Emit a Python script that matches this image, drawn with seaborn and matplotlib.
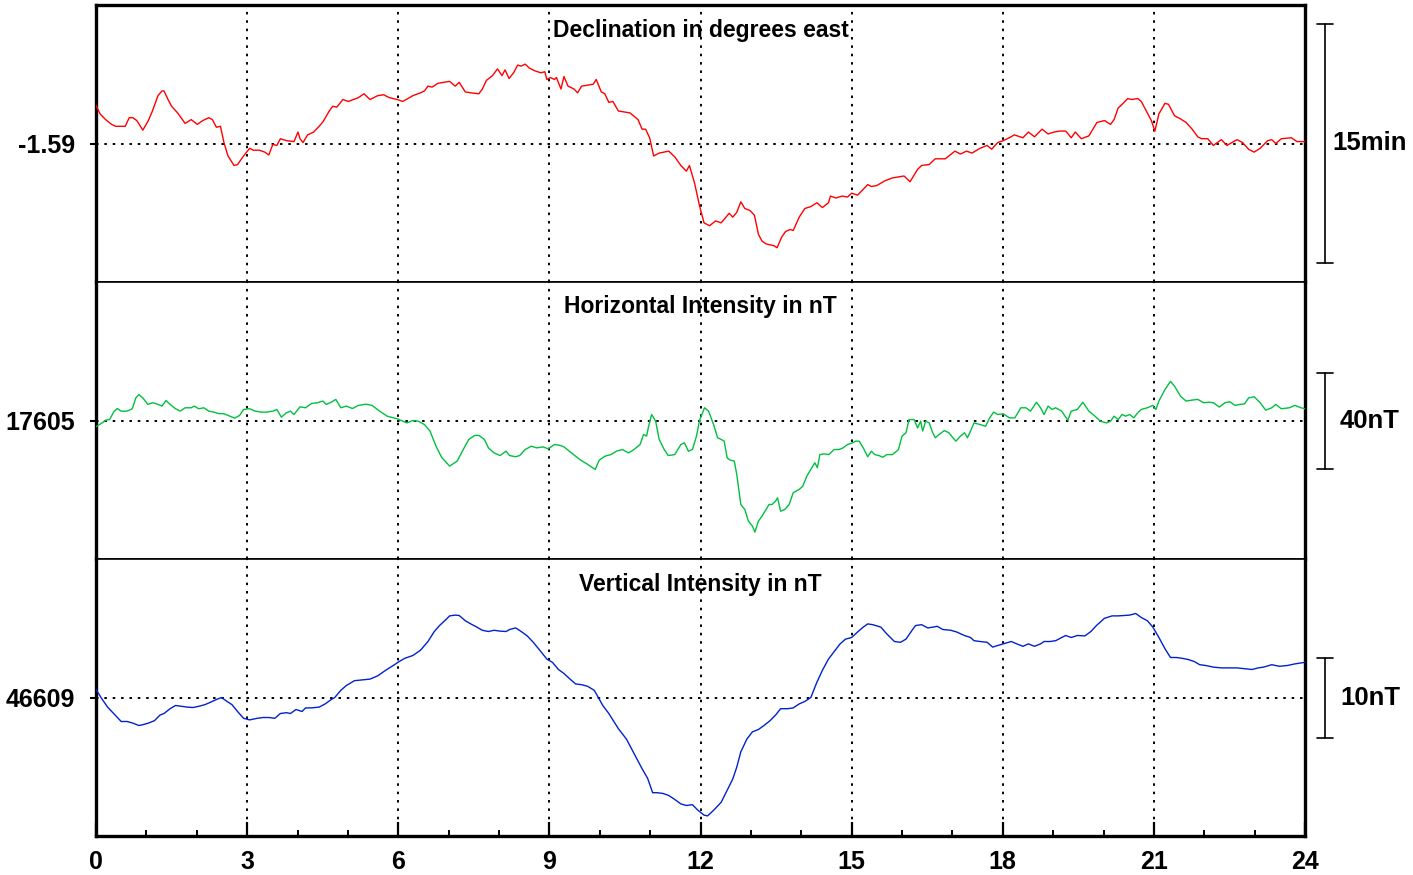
import matplotlib
matplotlib.use("Agg")
import pandas as pd
import seaborn as sns
import matplotlib.pyplot as plt

# Declination (degrees east): (hour, value)
d_points = [
    (0.00, -1.550), (0.08, -1.559), (0.19, -1.565), (0.31, -1.570), (0.39, -1.572), (0.50, -1.572),
    (0.58, -1.572), (0.66, -1.563), (0.73, -1.563), (0.81, -1.566), (0.93, -1.576), (1.04, -1.566),
    (1.12, -1.556), (1.23, -1.540), (1.31, -1.535), (1.35, -1.535), (1.43, -1.544), (1.50, -1.551),
    (1.62, -1.558), (1.77, -1.569), (1.89, -1.565), (2.01, -1.570), (2.12, -1.566), (2.24, -1.563),
    (2.31, -1.565), (2.39, -1.573), (2.47, -1.572), (2.54, -1.589), (2.62, -1.603), (2.74, -1.613),
    (2.81, -1.612), (2.93, -1.603), (3.05, -1.595), (3.12, -1.597), (3.24, -1.597), (3.35, -1.599),
    (3.43, -1.602), (3.51, -1.591), (3.59, -1.592), (3.66, -1.585), (3.78, -1.587), (3.93, -1.588),
    (4.01, -1.578), (4.05, -1.585), (4.11, -1.589), (4.20, -1.581), (4.32, -1.578), (4.43, -1.572),
    (4.51, -1.567), (4.63, -1.556), (4.70, -1.551), (4.78, -1.552), (4.90, -1.544), (5.01, -1.546),
    (5.21, -1.542), (5.32, -1.538), (5.44, -1.544), (5.59, -1.540), (5.71, -1.539), (5.82, -1.542),
    (5.98, -1.544), (6.09, -1.546), (6.29, -1.540), (6.44, -1.537), (6.52, -1.535), (6.59, -1.530),
    (6.67, -1.531), (6.79, -1.527), (6.90, -1.526), (7.02, -1.525), (7.13, -1.530), (7.21, -1.526),
    (7.33, -1.536), (7.44, -1.537), (7.60, -1.538), (7.67, -1.533), (7.75, -1.524), (7.87, -1.519),
    (7.97, -1.512), (8.06, -1.519), (8.12, -1.513), (8.20, -1.522), (8.29, -1.516), (8.37, -1.508),
    (8.44, -1.509), (8.52, -1.507), (8.60, -1.511), (8.71, -1.514), (8.83, -1.516), (8.91, -1.515),
    (8.95, -1.523), (9.02, -1.521), (9.10, -1.523), (9.14, -1.521), (9.23, -1.533), (9.29, -1.520),
    (9.37, -1.530), (9.49, -1.533), (9.56, -1.537), (9.64, -1.530), (9.76, -1.529), (9.87, -1.528),
    (9.93, -1.523), (10.03, -1.536), (10.10, -1.538), (10.18, -1.547), (10.26, -1.546), (10.37, -1.556),
    (10.49, -1.557), (10.60, -1.558), (10.76, -1.565), (10.84, -1.575), (10.91, -1.575), (10.99, -1.584),
    (11.07, -1.603), (11.18, -1.600), (11.37, -1.598), (11.49, -1.604), (11.61, -1.613), (11.72, -1.619),
    (11.78, -1.613), (11.88, -1.631), (11.98, -1.655), (12.07, -1.673), (12.18, -1.676), (12.30, -1.671),
    (12.41, -1.673), (12.57, -1.663), (12.64, -1.667), (12.72, -1.662), (12.80, -1.651), (12.88, -1.658),
    (12.98, -1.660), (13.07, -1.665), (13.15, -1.685), (13.22, -1.692), (13.30, -1.695), (13.38, -1.696),
    (13.46, -1.697), (13.52, -1.699), (13.61, -1.688), (13.69, -1.682), (13.78, -1.680), (13.84, -1.681),
    (13.96, -1.667), (14.07, -1.658), (14.19, -1.656), (14.31, -1.652), (14.42, -1.657), (14.54, -1.652),
    (14.58, -1.645), (14.69, -1.647), (14.81, -1.645), (14.92, -1.646), (15.00, -1.642), (15.12, -1.644),
    (15.23, -1.638), (15.32, -1.633), (15.39, -1.635), (15.50, -1.634), (15.66, -1.629), (15.81, -1.626),
    (15.93, -1.625), (16.04, -1.624), (16.16, -1.630), (16.31, -1.617), (16.39, -1.613), (16.54, -1.612),
    (16.66, -1.606), (16.86, -1.606), (17.05, -1.598), (17.16, -1.601), (17.28, -1.598), (17.39, -1.600),
    (17.55, -1.595), (17.69, -1.592), (17.78, -1.596), (17.90, -1.589), (18.01, -1.587), (18.13, -1.584),
    (18.23, -1.581), (18.40, -1.584), (18.51, -1.578), (18.63, -1.583), (18.78, -1.575), (18.90, -1.580),
    (19.02, -1.578), (19.13, -1.577), (19.25, -1.577), (19.36, -1.584), (19.44, -1.578), (19.56, -1.585),
    (19.71, -1.582), (19.87, -1.568), (20.02, -1.566), (20.14, -1.570), (20.21, -1.565), (20.29, -1.553),
    (20.37, -1.549), (20.48, -1.543), (20.56, -1.544), (20.68, -1.543), (20.75, -1.546), (20.83, -1.554),
    (20.95, -1.566), (21.02, -1.577), (21.10, -1.559), (21.22, -1.548), (21.29, -1.549), (21.41, -1.561),
    (21.52, -1.564), (21.64, -1.568), (21.76, -1.575), (21.87, -1.583), (21.95, -1.585), (22.07, -1.585),
    (22.18, -1.592), (22.34, -1.586), (22.45, -1.592), (22.65, -1.586), (22.76, -1.589), (22.88, -1.596),
    (22.99, -1.599), (23.11, -1.595), (23.26, -1.587), (23.34, -1.586), (23.42, -1.590), (23.53, -1.585),
    (23.73, -1.584), (23.84, -1.588), (24.00, -1.588),
]

# Horizontal intensity (nT)
h_points = [
    (0.00, 17602.4), (0.12, 17604.0), (0.19, 17605.1), (0.27, 17605.4), (0.35, 17608.5), (0.42, 17610.0),
    (0.50, 17608.9), (0.62, 17608.9), (0.72, 17609.9), (0.79, 17614.4), (0.85, 17615.8), (0.93, 17614.4),
    (1.03, 17611.7), (1.12, 17612.4), (1.21, 17611.9), (1.31, 17611.0), (1.39, 17613.3), (1.47, 17611.7),
    (1.58, 17609.9), (1.67, 17608.9), (1.77, 17610.3), (1.89, 17610.3), (1.95, 17611.0), (2.04, 17609.9),
    (2.14, 17610.3), (2.24, 17608.9), (2.34, 17608.5), (2.43, 17607.9), (2.54, 17607.8), (2.66, 17606.8),
    (2.75, 17606.0), (2.85, 17607.1), (2.93, 17609.6), (3.05, 17609.9), (3.16, 17608.9), (3.28, 17608.5),
    (3.39, 17608.5), (3.51, 17608.9), (3.59, 17609.6), (3.68, 17606.4), (3.78, 17608.2), (3.86, 17608.9),
    (3.93, 17607.5), (4.05, 17610.7), (4.16, 17610.3), (4.28, 17612.1), (4.40, 17612.4), (4.50, 17613.1),
    (4.57, 17611.7), (4.67, 17612.6), (4.76, 17613.8), (4.86, 17610.3), (4.97, 17611.0), (5.09, 17610.0),
    (5.21, 17611.3), (5.36, 17611.8), (5.48, 17611.3), (5.63, 17608.9), (5.78, 17606.8), (5.98, 17605.7),
    (6.09, 17604.7), (6.17, 17604.0), (6.29, 17605.0), (6.40, 17604.7), (6.52, 17603.3), (6.63, 17600.6),
    (6.75, 17594.3), (6.86, 17589.7), (7.02, 17586.0), (7.17, 17588.1), (7.29, 17592.9), (7.40, 17597.1),
    (7.52, 17598.8), (7.60, 17598.8), (7.71, 17597.1), (7.79, 17593.6), (7.90, 17591.5), (8.02, 17590.4),
    (8.14, 17592.2), (8.21, 17590.4), (8.33, 17589.9), (8.41, 17590.4), (8.52, 17592.9), (8.64, 17594.3),
    (8.75, 17593.6), (8.87, 17594.0), (8.98, 17593.2), (9.10, 17595.0), (9.22, 17594.6), (9.29, 17594.0),
    (9.45, 17591.3), (9.60, 17588.8), (9.76, 17586.7), (9.91, 17584.6), (9.99, 17588.5), (10.10, 17590.1),
    (10.22, 17590.8), (10.33, 17592.2), (10.45, 17592.9), (10.57, 17591.5), (10.68, 17592.9), (10.80, 17595.0),
    (10.87, 17599.2), (10.93, 17598.5), (10.97, 17602.6), (11.03, 17607.5), (11.11, 17604.7), (11.18, 17597.1),
    (11.28, 17592.9), (11.36, 17590.4), (11.49, 17590.8), (11.61, 17595.0), (11.68, 17595.7), (11.76, 17592.2),
    (11.84, 17592.9), (11.92, 17598.5), (11.98, 17605.0), (12.08, 17610.3), (12.16, 17608.9), (12.26, 17603.3),
    (12.34, 17597.8), (12.41, 17597.1), (12.47, 17596.4), (12.53, 17589.4), (12.59, 17588.5), (12.67, 17588.1),
    (12.72, 17582.5), (12.80, 17570.0), (12.88, 17567.9), (12.95, 17563.1), (13.03, 17561.0), (13.08, 17558.5),
    (13.15, 17563.1), (13.22, 17565.1), (13.30, 17567.9), (13.36, 17570.0), (13.42, 17570.0), (13.49, 17571.4),
    (13.53, 17572.8), (13.59, 17567.2), (13.67, 17567.9), (13.76, 17570.0), (13.84, 17574.9), (13.96, 17576.3),
    (14.03, 17577.6), (14.11, 17581.8), (14.19, 17584.6), (14.27, 17587.4), (14.32, 17585.3), (14.37, 17590.8),
    (14.46, 17591.1), (14.55, 17590.8), (14.65, 17592.9), (14.75, 17592.9), (14.83, 17593.6), (14.92, 17595.0),
    (15.02, 17595.7), (15.08, 17596.4), (15.15, 17596.4), (15.23, 17593.6), (15.32, 17589.9), (15.39, 17592.2),
    (15.46, 17590.8), (15.54, 17590.4), (15.62, 17589.7), (15.70, 17590.8), (15.81, 17590.8), (15.93, 17592.9),
    (16.00, 17598.5), (16.08, 17599.9), (16.14, 17605.4), (16.24, 17605.4), (16.31, 17601.9), (16.37, 17604.7),
    (16.41, 17600.6), (16.47, 17604.7), (16.54, 17604.0), (16.61, 17599.9), (16.66, 17597.8), (16.74, 17599.2),
    (16.84, 17600.8), (16.93, 17599.9), (17.01, 17597.8), (17.07, 17596.4), (17.16, 17598.5), (17.24, 17599.9),
    (17.30, 17597.8), (17.36, 17600.6), (17.43, 17604.0), (17.55, 17603.3), (17.66, 17602.6), (17.74, 17606.1),
    (17.82, 17608.5), (17.90, 17607.5), (18.01, 17607.8), (18.13, 17606.1), (18.24, 17606.1), (18.36, 17610.3),
    (18.46, 17610.3), (18.55, 17608.9), (18.67, 17612.6), (18.75, 17610.3), (18.82, 17607.5), (18.90, 17611.0),
    (18.98, 17609.6), (19.05, 17610.3), (19.17, 17608.9), (19.29, 17605.1), (19.36, 17608.9), (19.48, 17609.6),
    (19.59, 17612.6), (19.71, 17608.9), (19.83, 17606.8), (19.94, 17604.7), (20.06, 17604.0), (20.14, 17604.7),
    (20.21, 17606.8), (20.29, 17605.4), (20.37, 17607.5), (20.44, 17606.8), (20.52, 17607.5), (20.60, 17606.1),
    (20.68, 17608.2), (20.75, 17609.6), (20.87, 17610.3), (20.98, 17611.3), (21.04, 17609.6), (21.10, 17613.1),
    (21.22, 17617.9), (21.33, 17621.3), (21.41, 17619.3), (21.53, 17615.1), (21.64, 17613.1), (21.76, 17613.5),
    (21.87, 17613.8), (21.99, 17612.4), (22.10, 17612.6), (22.18, 17612.4), (22.30, 17610.6), (22.41, 17612.4),
    (22.51, 17612.8), (22.61, 17611.3), (22.71, 17611.7), (22.80, 17611.9), (22.88, 17614.4), (22.99, 17614.9),
    (23.11, 17612.4), (23.22, 17609.3), (23.34, 17610.3), (23.42, 17611.7), (23.53, 17609.9), (23.69, 17610.3),
    (23.80, 17611.3), (23.92, 17610.3), (24.00, 17609.9),
]

# Vertical intensity (nT)
z_points = [
    (0.00, 46610.0), (0.12, 46608.8), (0.23, 46607.8), (0.35, 46607.0), (0.50, 46606.0), (0.62, 46606.0),
    (0.73, 46605.8), (0.85, 46605.5), (0.93, 46605.6), (1.04, 46605.8), (1.16, 46606.1), (1.27, 46606.8),
    (1.35, 46607.0), (1.47, 46607.6), (1.58, 46608.0), (1.70, 46607.9), (1.81, 46607.8), (1.93, 46607.75),
    (2.04, 46607.9), (2.16, 46608.1), (2.27, 46608.4), (2.39, 46608.75), (2.49, 46609.0), (2.58, 46608.6),
    (2.70, 46608.1), (2.81, 46607.25), (2.93, 46606.4), (3.05, 46606.2), (3.20, 46606.4), (3.32, 46606.5),
    (3.43, 46606.5), (3.55, 46606.4), (3.66, 46607.0), (3.78, 46607.1), (3.86, 46607.0), (3.97, 46607.5),
    (4.09, 46607.25), (4.16, 46607.7), (4.28, 46607.7), (4.43, 46607.8), (4.55, 46608.2), (4.67, 46608.75),
    (4.74, 46609.0), (4.86, 46609.9), (4.97, 46610.5), (5.13, 46611.1), (5.28, 46611.2), (5.44, 46611.3),
    (5.59, 46611.7), (5.75, 46612.4), (5.90, 46613.0), (6.02, 46613.5), (6.13, 46613.9), (6.29, 46614.25),
    (6.44, 46614.9), (6.59, 46616.0), (6.71, 46617.2), (6.82, 46618.0), (6.94, 46618.7), (7.02, 46619.2),
    (7.13, 46619.3), (7.21, 46619.25), (7.33, 46618.6), (7.44, 46618.2), (7.56, 46617.8), (7.67, 46617.4),
    (7.79, 46617.25), (7.90, 46617.4), (8.02, 46617.3), (8.14, 46617.25), (8.21, 46617.5), (8.33, 46617.7),
    (8.44, 46617.25), (8.56, 46616.7), (8.68, 46615.9), (8.83, 46614.75), (8.95, 46613.8), (9.06, 46613.4),
    (9.18, 46612.5), (9.29, 46612.0), (9.41, 46611.3), (9.52, 46610.7), (9.64, 46610.6), (9.76, 46610.4),
    (9.89, 46609.9), (9.99, 46608.8), (10.06, 46608.0), (10.18, 46607.0), (10.37, 46605.1), (10.53, 46603.8),
    (10.68, 46602.0), (10.84, 46600.1), (10.95, 46598.9), (11.05, 46597.1), (11.14, 46597.1), (11.26, 46597.0),
    (11.37, 46596.75), (11.49, 46596.25), (11.61, 46595.7), (11.72, 46595.5), (11.84, 46595.6), (11.95, 46594.9),
    (12.07, 46594.3), (12.14, 46594.2), (12.26, 46594.9), (12.41, 46595.9), (12.53, 46597.4), (12.64, 46598.8),
    (12.72, 46600.3), (12.80, 46602.2), (12.92, 46603.8), (13.03, 46604.7), (13.15, 46605.0), (13.26, 46605.5),
    (13.38, 46606.1), (13.49, 46606.8), (13.59, 46607.6), (13.73, 46607.6), (13.84, 46607.7), (13.96, 46608.2),
    (14.07, 46608.5), (14.19, 46609.0), (14.31, 46610.9), (14.42, 46612.4), (14.54, 46613.8), (14.65, 46614.7),
    (14.77, 46615.7), (14.88, 46616.3), (15.00, 46616.5), (15.12, 46617.2), (15.23, 46617.8), (15.32, 46618.2),
    (15.42, 46618.1), (15.58, 46617.8), (15.69, 46617.0), (15.85, 46616.0), (15.97, 46615.9), (16.08, 46616.3),
    (16.20, 46617.4), (16.27, 46618.0), (16.39, 46618.1), (16.51, 46617.7), (16.62, 46617.8), (16.70, 46617.9),
    (16.81, 46617.5), (16.97, 46617.4), (17.08, 46617.2), (17.24, 46616.75), (17.36, 46616.5), (17.43, 46616.1),
    (17.55, 46616.0), (17.69, 46615.9), (17.80, 46615.3), (17.90, 46615.5), (18.01, 46615.7), (18.17, 46616.0),
    (18.28, 46615.7), (18.40, 46615.4), (18.51, 46615.7), (18.63, 46615.4), (18.75, 46615.7), (18.82, 46616.0),
    (18.94, 46616.0), (19.05, 46616.1), (19.17, 46616.5), (19.25, 46616.75), (19.36, 46616.5), (19.48, 46616.75),
    (19.63, 46616.7), (19.75, 46617.25), (19.86, 46618.0), (20.02, 46618.9), (20.17, 46619.2), (20.29, 46619.2),
    (20.41, 46619.25), (20.52, 46619.3), (20.64, 46619.5), (20.75, 46619.0), (20.87, 46618.6), (20.98, 46617.8),
    (21.10, 46616.5), (21.22, 46615.1), (21.33, 46614.0), (21.45, 46614.0), (21.56, 46613.9), (21.68, 46613.75),
    (21.80, 46613.5), (21.91, 46613.1), (22.03, 46613.0), (22.18, 46612.8), (22.34, 46612.7), (22.49, 46612.7),
    (22.65, 46612.7), (22.80, 46612.6), (22.95, 46612.5), (23.07, 46612.7), (23.18, 46612.8), (23.34, 46613.1),
    (23.49, 46612.9), (23.65, 46613.0), (23.80, 46613.2), (24.00, 46613.4),
]

titles = ['Declination in degrees east', 'Horizontal Intensity in nT', 'Vertical Intensity in nT']
baselines = [-1.59, 17605, 46609]
baseline_labels = ['-1.59', '17605', '46609']
scale_bars = [0.25, 40, 10]          # full length of the scale bar, in data units
scale_labels = ['15min', '40nT', '10nT']
hour_ticks = list(range(0, 25, 3))

series = [d_points, h_points, z_points]
colors = ['#ff0000', '#00c040', '#0022cc']
# pixels per data unit for each panel (scale bars are 239, 96 and 80 px long)
px_per_unit = [956, 2.4, 8]

sns.set_style('white')
plt.rcParams['font.family'] = ['Liberation Sans', 'DejaVu Sans']
plt.rcParams['font.weight'] = 'bold'
for key in ('text.color', 'xtick.color', 'ytick.color', 'axes.labelcolor', 'axes.edgecolor'):
    plt.rcParams[key] = 'black'

fig, axes = plt.subplots(3, 1, figsize=(14.13, 8.75), dpi=100, sharex=True)
fig.subplots_adjust(left=96 / 1413, right=1305 / 1413, top=1 - 5 / 875, bottom=1 - 836 / 875, hspace=0)

dot = (0, (1.3, 3.0))
for i, ax in enumerate(axes):
    df = pd.DataFrame(series[i], columns=['hour', 'value'])
    base = baselines[i]
    half = 138.5 / px_per_unit[i]

    # grid first so the trace sits on top
    ax.axhline(base, color='black', lw=1.4, ls=dot, zorder=1)
    for t in hour_ticks[1:-1]:
        ax.axvline(t, color='black', lw=1.4, ls=dot, zorder=1)

    sns.lineplot(data=df, x='hour', y='value', ax=ax, color=colors[i], linewidth=1.0,
                 estimator=None, sort=False, zorder=3)

    ax.set_xlim(0, 24)
    ax.set_ylim(base - half, base + half)
    ax.set_xlabel('')
    ax.set_ylabel('')
    ax.set_yticks([base])
    ax.set_yticklabels([baseline_labels[i]])
    ax.tick_params(axis='y', left=True, direction='out', length=4, width=1.5, pad=11, labelsize=18,
                   colors='black')

    ax.text(0.5, 1 - 25 / 277, titles[i], transform=ax.transAxes, ha='center', va='center',
            fontsize=16.5, fontweight='bold', color='black')

    # scale bar on the right
    trans = ax.get_yaxis_transform()
    s = scale_bars[i] / 2
    ax.plot([1.0165, 1.0165], [base - s, base + s], transform=trans, color='black', lw=1.2, clip_on=False)
    for yy in (base - s, base + s):
        ax.plot([1.0099, 1.0231], [yy, yy], transform=trans, color='black', lw=1.2, clip_on=False)
    ax.text(1.0538, base, scale_labels[i], transform=trans, ha='center', va='center',
            fontsize=18.5, fontweight='bold', color='black')

    for side in ('left', 'right'):
        ax.spines[side].set_linewidth(2.4)
    ax.spines['top'].set_linewidth(2.4 if i == 0 else 1.2)
    ax.spines['bottom'].set_linewidth(2.4 if i == 2 else 1.2)
    for sp in ax.spines.values():
        sp.set_color('black')

    if i < 2:
        ax.tick_params(axis='x', which='both', bottom=False, labelbottom=False)

bottom = axes[2]
bottom.set_xticks(hour_ticks)
bottom.set_xticks(range(25), minor=True)
bottom.set_xticklabels([str(t) for t in hour_ticks])
bottom.tick_params(axis='x', which='major', bottom=True, direction='in', length=10, width=1.6,
                   labelsize=18, pad=10, colors='black')
bottom.tick_params(axis='x', which='minor', bottom=True, direction='in', length=4.5, width=1.4,
                   colors='black')

plt.savefig('out.png', dpi=100)
